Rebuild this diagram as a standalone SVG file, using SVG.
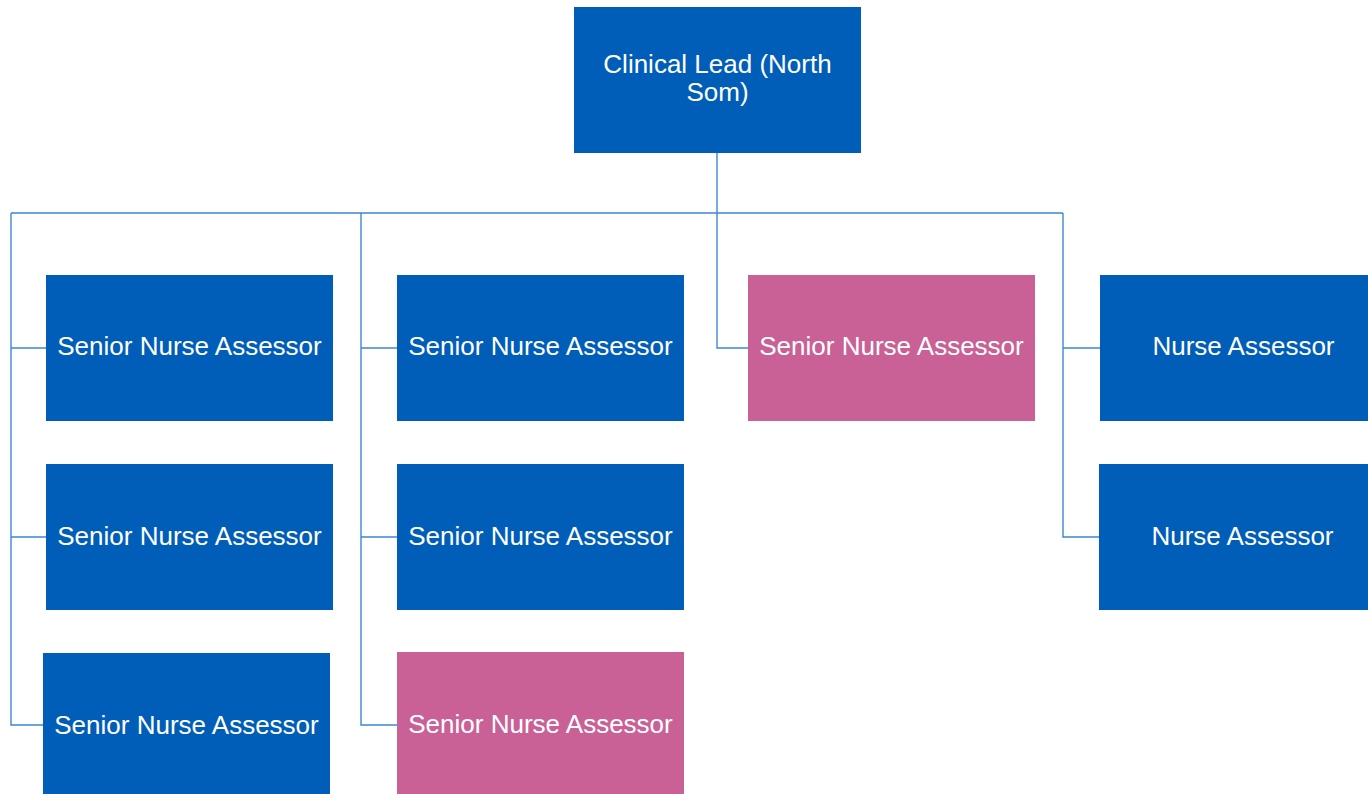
<svg xmlns="http://www.w3.org/2000/svg" width="1368" height="794" viewBox="0 0 1368 794">
<style>
.b{fill:#005EB8}
.p{fill:#C96197}
.t{fill:#fff;font-family:"Liberation Sans",Arial,sans-serif;font-size:26px;text-anchor:middle}
.c{fill:none;stroke:#3C88D0;stroke-width:1.4}
</style>
<rect width="1368" height="794" fill="#fff"/>
<g id="connectors">
<path class="c" d="M717,153V213M11,213H1063M11,213V725H43M11,348H46M11,537H46M361,213V725H397M361,348H397M361,537H397M717,213V348H748M1063,213V537H1099M1063,348H1100"/>
</g>
<g id="lead"><rect class="b" x="574" y="7" width="287" height="146"/><text class="t" x="717.5" y="73">Clinical Lead (North</text><text class="t" x="717.5" y="101">Som)</text></g>
<g id="sna1"><rect class="b" x="46" y="275" width="287" height="146"/><text class="t" x="189.5" y="355">Senior Nurse Assessor</text></g>
<g id="sna2"><rect class="b" x="46" y="464" width="287" height="146"/><text class="t" x="189.5" y="545">Senior Nurse Assessor</text></g>
<g id="sna3"><rect class="b" x="43" y="653" width="287" height="146"/><text class="t" x="186.5" y="734">Senior Nurse Assessor</text></g>
<g id="sna4"><rect class="b" x="397" y="275" width="287" height="146"/><text class="t" x="540.5" y="355">Senior Nurse Assessor</text></g>
<g id="sna5"><rect class="b" x="397" y="464" width="287" height="146"/><text class="t" x="540.5" y="545">Senior Nurse Assessor</text></g>
<g id="sna6"><rect class="p" x="397" y="652" width="287" height="146"/><text class="t" x="540.5" y="733">Senior Nurse Assessor</text></g>
<g id="sna7"><rect class="p" x="748" y="275" width="287" height="146"/><text class="t" x="891.5" y="355">Senior Nurse Assessor</text></g>
<g id="na1"><rect class="b" x="1100" y="275" width="287" height="146"/><text class="t" x="1243.5" y="355">Nurse Assessor</text></g>
<g id="na2"><rect class="b" x="1099" y="464" width="287" height="146"/><text class="t" x="1242.5" y="545">Nurse Assessor</text></g>
</svg>
